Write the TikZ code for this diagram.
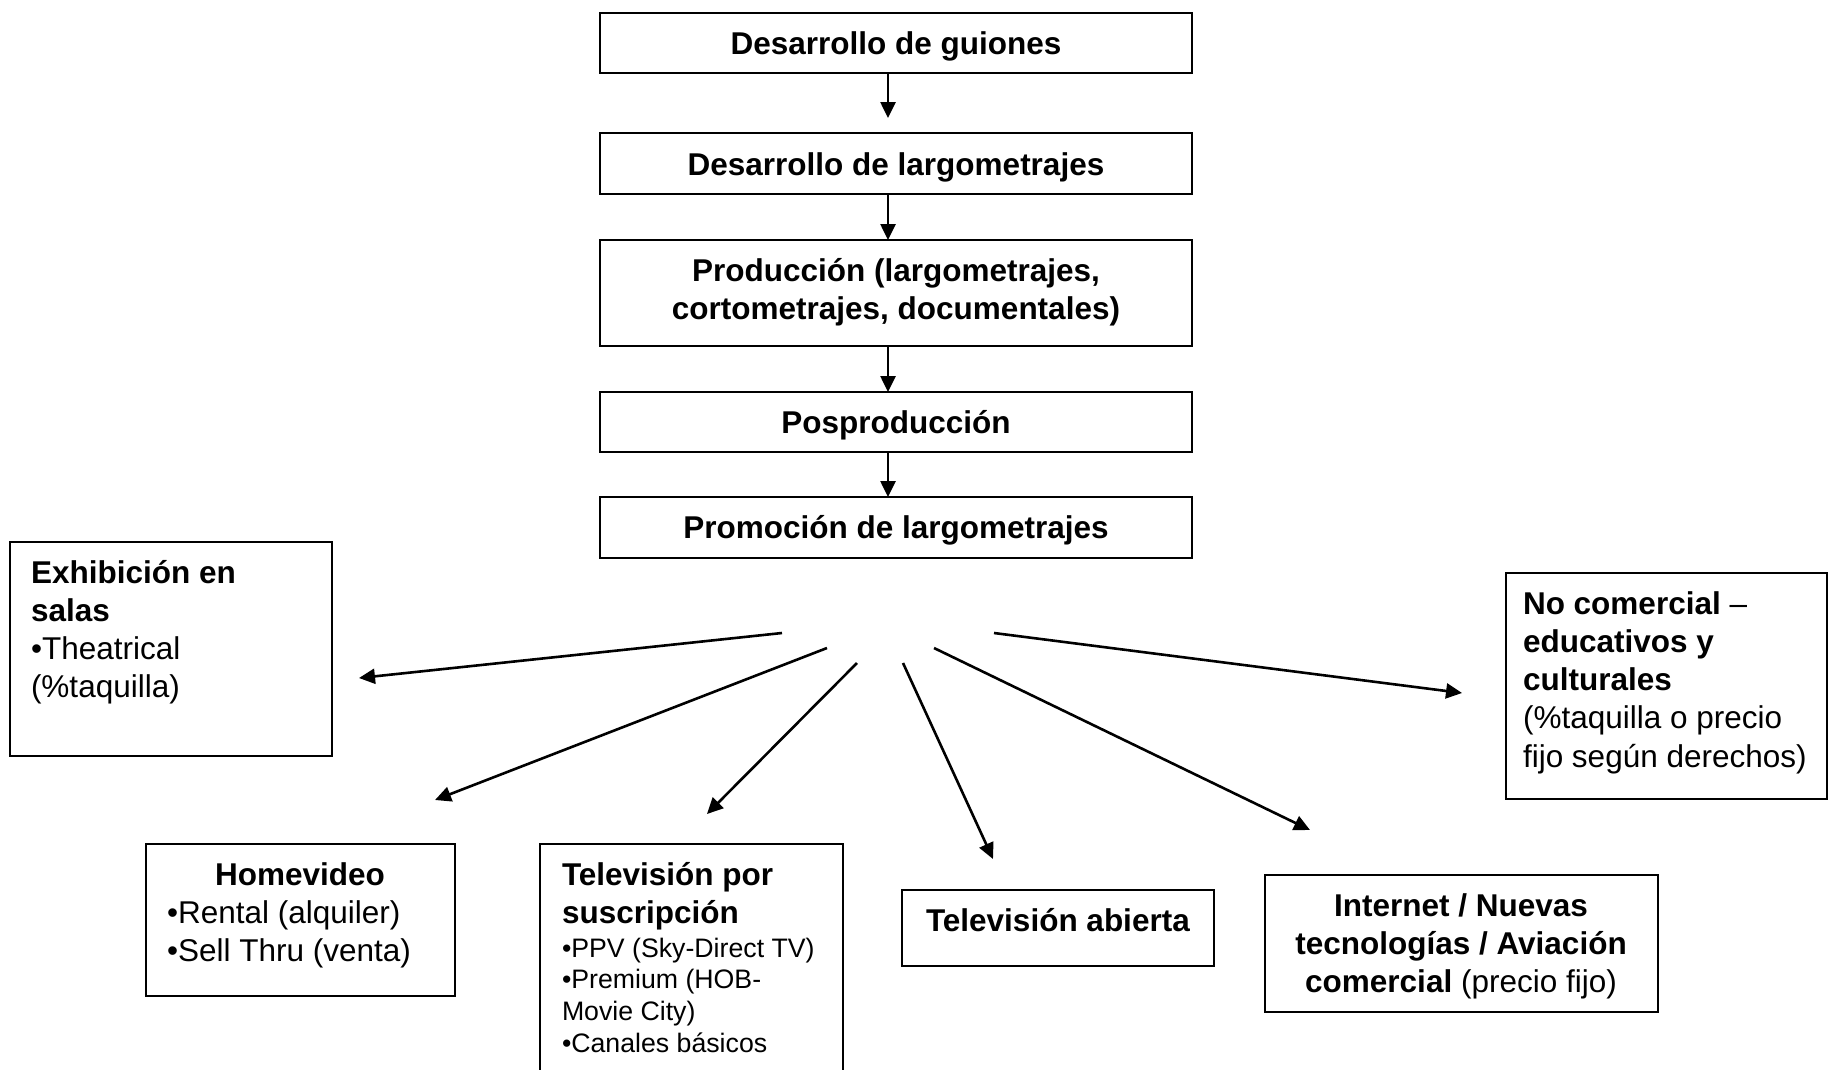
\documentclass[tikz,border=0pt]{standalone}
\usepackage{fontspec}
\setmainfont{Liberation Sans}
\usetikzlibrary{arrows.meta}
\begin{document}
\begin{tikzpicture}[x=1pt,y=-1pt,
  boxst/.style={draw, line width=2.8pt, rectangle, inner sep=0pt, outer sep=0pt, anchor=north west},
  txt/.style={inner sep=0pt, outer sep=0pt, font=\fontsize{31.5}{38.3}\selectfont},
  small/.style={inner sep=0pt, outer sep=0pt, font=\fontsize{26.7}{31.8}\selectfont},
  arr/.style={line width=2.6pt, -{Triangle[length=16pt,width=15pt]}},
]
\useasboundingbox[fill=white] (0,0) rectangle (1829,1069);

% ---- top chain boxes
\node[boxst, minimum width=592pt, minimum height=60pt] (b1) at (600,13) {};
\node[boxst, minimum width=592pt, minimum height=61pt] (b2) at (600,133) {};
\node[boxst, minimum width=592pt, minimum height=106pt] (b3) at (600,240) {};
\node[boxst, minimum width=592pt, minimum height=60pt] (b4) at (600,392) {};
\node[boxst, minimum width=592pt, minimum height=61pt] (b5) at (600,497) {};

\node[txt, anchor=base] (t1) at (896,54) {\textbf{Desarrollo de guiones}};
\node[txt, anchor=base] (t2) at (896,175) {\textbf{Desarrollo de largometrajes}};
\node[txt, anchor=base] (t3) at (896,281) {\parbox[t]{570pt}{\centering\bfseries Producción (largometrajes,\\ cortometrajes, documentales)}};
\node[txt, anchor=base] (t4) at (896,433) {\textbf{Posproducción}};
\node[txt, anchor=base] (t5) at (896,538) {\textbf{Promoción de largometrajes}};

% ---- destination boxes
\node[boxst, minimum width=322pt, minimum height=214pt] (exh) at (10,542) {};
\node[boxst, minimum width=321pt, minimum height=226pt] (noc) at (1506,573) {};
\node[boxst, minimum width=309pt, minimum height=152pt] (home) at (146,844) {};
\node[boxst, minimum width=303pt, minimum height=240pt] (tsub) at (540,844) {};
\node[boxst, minimum width=312pt, minimum height=76pt] (tab) at (902,890) {};
\node[boxst, minimum width=393pt, minimum height=137pt] (inet) at (1265,875) {};

\node[txt, anchor=base west] (exht) at (31,583) {\parbox[t]{295pt}{\raggedright\textbf{Exhibición en}\\ \textbf{salas}\\ •Theatrical\\ (\%taquilla)}};
\node[txt, anchor=base west] (noct) at (1523,614) {\parbox[t]{300pt}{\raggedright\textbf{No comercial} –\\ \textbf{educativos y}\\ \textbf{culturales}\\ (\%taquilla o precio\\ fijo según derechos)}};
\node[txt, anchor=base west] (homet) at (167,885) {\parbox[t]{266pt}{\centering\textbf{Homevideo}\par\raggedright •Rental (alquiler)\\ •Sell Thru (venta)}};
\node[txt, anchor=base west] (tsubt) at (562,885) {\parbox[t]{275pt}{\raggedright\textbf{Televisión por}\\ \textbf{suscripción}}};
\node[small, anchor=base west] (tsubb) at (562,957) {\parbox[t]{275pt}{\raggedright •PPV (Sky-Direct TV)\\ •Premium (HOB-\\ Movie City)\\ •Canales básicos}};
\node[txt, anchor=base] (tabt) at (1058,931) {\textbf{Televisión abierta}};
\node[txt, anchor=base] (inett) at (1461,916) {\parbox[t]{390pt}{\centering\textbf{Internet / Nuevas}\\ \textbf{tecnologías / Aviación}\\ \textbf{comercial} (precio fijo)}};

% ---- vertical arrows
\draw[arr, shorten >=15pt] ([xshift=-8pt]b1.south) -- ([xshift=-8pt]b2.north);
\draw[arr] ([xshift=-8pt]b2.south) -- ([xshift=-8pt]b3.north);
\draw[arr] ([xshift=-8pt]b3.south) -- ([xshift=-8pt]b4.north);
\draw[arr] ([xshift=-8pt]b4.south) -- ([xshift=-8pt]b5.north);

% ---- fan-out arrows
\coordinate (s1) at (782,633); \coordinate (e1) at (359,678);
\coordinate (s2) at (827,648); \coordinate (e2) at (435,800);
\coordinate (s3) at (857,663); \coordinate (e3) at (707,814);
\coordinate (s4) at (903,663); \coordinate (e4) at (993,859);
\coordinate (s5) at (934,648); \coordinate (e5) at (1310,830);
\coordinate (s6) at (994,633); \coordinate (e6) at (1462,693);
\draw[arr] (s1) -- (e1);
\draw[arr] (s2) -- (e2);
\draw[arr] (s3) -- (e3);
\draw[arr] (s4) -- (e4);
\draw[arr] (s5) -- (e5);
\draw[arr] (s6) -- (e6);
\end{tikzpicture}
\end{document}
